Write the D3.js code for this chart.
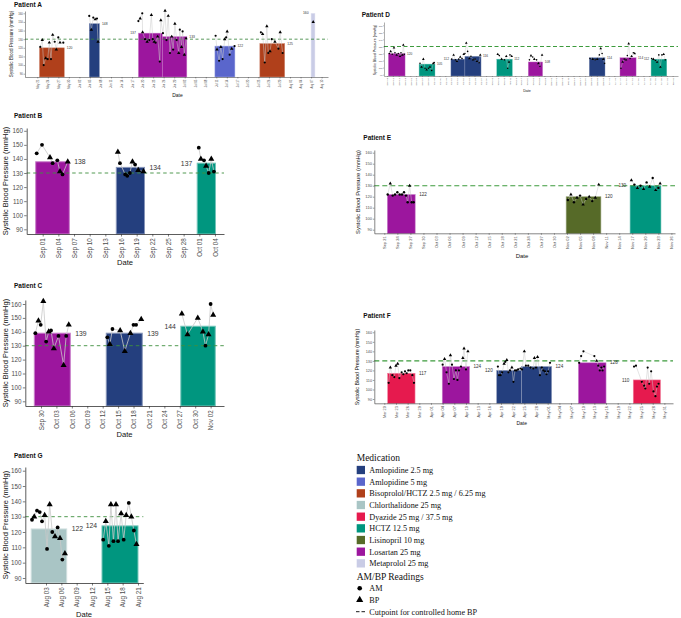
<!DOCTYPE html>
<html><head><meta charset="utf-8">
<script src="https://cdn.jsdelivr.net/npm/d3@7"></script>
<style>body{margin:0;background:#fff}svg{display:block}</style>
</head><body><svg id="c" width="681" height="618"></svg>
<script>
// ---------------- DATA ----------------
const medications = ["Amlopidine 2.5 mg","Amlopidine 5 mg","Bisoprolol/HCTZ 2.5 mg / 6.25 mg","Chlorthalidone 25 mg","Dyazide 25 mg / 37.5 mg","HCTZ 12.5 mg","Lisinopril 10 mg","Losartan 25 mg","Metaprolol 25 mg"];
const readingTypes = ["AM","BP"];
const cutpoint = 130;
const yTicks = [90,100,110,120,130,140,150,160];

// Patient A  (days counted from startA)
const startA = "2021-05-21";
const ticksA = ["2021-05-21","2021-05-24","2021-05-27","2021-05-30","2021-06-02","2021-06-05","2021-06-08","2021-06-11","2021-06-14","2021-06-17","2021-06-20","2021-06-23","2021-06-26","2021-06-29","2021-07-02","2021-07-05","2021-07-08","2021-07-11","2021-07-14","2021-07-17","2021-07-20","2021-07-23","2021-07-26","2021-07-29","2021-08-01","2021-08-04","2021-08-07","2021-08-10"];
const barsA = [["Bisoprolol/HCTZ 2.5 mg / 6.25 mg",0.6,7.7,120],["Amlopidine 2.5 mg",14.8,17.7,148],["Losartan 25 mg",28.8,35.6,137],["Losartan 25 mg",35.6,42.6,133],["Amlopidine 5 mg",50.6,56.3,122],["Bisoprolol/HCTZ 2.5 mg / 6.25 mg",63.4,70.5,125],["Metaprolol 25 mg",78.0,79.1,160]];
const readingsA = [[0.85,121,"AM"],[1.42,129,"BP"],[1.82,100,"AM"],[2.39,108,"BP"],[2.96,107,"AM"],[3.42,126,"BP"],[3.9,107,"AM"],[4.39,135,"BP"],[4.96,127,"AM"],[5.41,118,"BP"],[5.98,132,"AM"],[6.47,126,"BP"],[7.41,126,"AM"],
[14.8,157,"AM"],[15.4,141,"BP"],[15.95,155,"AM"],[16.5,153,"BP"],[17.0,154,"AM"],[17.3,127,"BP"],
[28.8,151,"AM"],[29.3,154,"BP"],[29.9,160,"AM"],[30.0,138,"BP"],[30.7,130,"AM"],[31.3,127,"BP"],[31.9,129,"AM"],[32.5,158,"BP"],[32.9,130,"AM"],[33.3,127,"BP"],[33.7,126,"AM"],[34.3,133,"BP"],[34.9,104,"AM"],[35.2,152,"BP"],[35.8,137,"AM"],[36.4,163,"BP"],[36.8,129,"AM"],[37.3,157,"BP"],[37.8,114,"AM"],[38.3,133,"BP"],[38.7,118,"AM"],[39.2,148,"BP"],[39.7,129,"AM"],[40.3,114,"BP"],[40.6,141,"AM"],[41.1,121,"BP"],[41.4,139,"AM"],[41.9,112,"BP"],[42.4,131,"AM"],
[50.8,134,"AM"],[51.2,118,"BP"],[51.8,105,"AM"],[52.3,121,"BP"],[52.8,107,"AM"],[53.4,130,"BP"],[53.8,132,"AM"],[54.1,139,"BP"],[54.8,112,"AM"],[55.4,119,"BP"],[56.2,122,"AM"],
[63.7,138,"AM"],[64.2,136,"BP"],[64.8,103,"AM"],[65.4,145,"BP"],[65.8,114,"AM"],[66.3,116,"BP"],[66.8,130,"AM"],[67.7,127,"BP"],[68.7,119,"AM"],[69.2,138,"BP"],[69.9,114,"AM"],
[78.6,150,"BP"]];

// Patient B
const startB = "2021-09-01";
const ticksB = ["2021-09-01","2021-09-04","2021-09-07","2021-09-10","2021-09-13","2021-09-16","2021-09-19","2021-09-22","2021-09-25","2021-09-28","2021-10-01","2021-10-04"];
const barsB = [["Losartan 25 mg",-1.34,5.1,138],["Amlopidine 2.5 mg",14.1,19.5,134],["HCTZ 12.5 mg",29.6,33.1,137]];
const readingsB = [[-1.15,144,"AM"],[-0.13,150,"AM"],[1.4,141,"BP"],[1.9,137,"AM"],[2.8,139,"AM"],[3.3,131,"BP"],[3.8,129,"AM"],[4.8,138,"BP"],
[14.4,145,"BP"],[14.8,137,"AM"],[15.8,129,"AM"],[16.2,128,"AM"],[16.7,130,"AM"],[17.2,138,"BP"],[17.7,136,"AM"],[18.3,132,"BP"],[19.3,131,"BP"],
[29.9,148,"AM"],[30.3,140,"BP"],[30.9,139,"AM"],[31.3,135,"BP"],[31.8,130,"AM"],[32.3,140,"BP"],[32.8,131,"AM"]];

// Patient C
const startC = "2021-09-30";
const ticksC = ["2021-09-30","2021-10-03","2021-10-06","2021-10-09","2021-10-12","2021-10-15","2021-10-18","2021-10-21","2021-10-24","2021-10-27","2021-10-30","2021-11-02"];
const barsC = [["Losartan 25 mg",-1.3,5.7,139],["Amlopidine 2.5 mg",12.7,19.7,139],["HCTZ 12.5 mg",27.2,33.9,144]];
const readingsC = [[-1.1,139,"AM"],[-0.5,148,"BP"],[-0.06,145,"AM"],[0.45,162,"BP"],[1.0,133,"AM"],[1.5,140,"BP"],[1.95,141,"AM"],[2.5,128,"BP"],[3.4,137,"AM"],[4.4,116,"BP"],[4.9,137,"AM"],[5.4,145,"BP"],
[12.9,136,"AM"],[13.4,131,"BP"],[13.9,142,"AM"],[15.4,141,"BP"],[16.3,126,"BP"],[17.4,139,"BP"],[18.0,145,"AM"],[18.5,145,"AM"],[19.5,149,"BP"],
[27.4,153,"BP"],[28.5,138,"BP"],[30.5,150,"BP"],[31.5,140,"BP"],[32.0,130,"AM"],[32.6,138,"BP"],[33.0,160,"AM"],[33.5,152,"BP"]];

// Patient D
const startD = "2021-09-09";
const ticksD = ["2021-09-09","2021-09-12","2021-09-15","2021-09-18","2021-09-21","2021-09-24","2021-09-27","2021-09-30","2021-10-03","2021-10-06","2021-10-09","2021-10-12","2021-10-15","2021-10-18","2021-10-21","2021-10-24","2021-10-27","2021-10-30","2021-11-02","2021-11-05","2021-11-08","2021-11-11","2021-11-14","2021-11-17","2021-11-20","2021-11-23","2021-11-26","2021-11-29","2021-12-02","2021-12-05","2021-12-08","2021-12-11","2021-12-14","2021-12-17","2021-12-20","2021-12-23","2021-12-26","2021-12-29","2022-01-01","2022-01-04","2022-01-07","2022-01-10","2022-01-13","2022-01-16","2022-01-19","2022-01-22","2022-01-25","2022-01-28","2022-01-31","2022-02-03"];
const barsD = [["Losartan 25 mg",0.7,9.3,120],["HCTZ 12.5 mg",16.5,24.7,105],["Amlopidine 2.5 mg",32.9,40.1,112],["Amlopidine 2.5 mg",40.1,48.4,116],["HCTZ 12.5 mg",56.5,64.5,112],["Losartan 25 mg",72.7,80.1,108],["Amlopidine 2.5 mg",104.1,112.2,114],["Losartan 25 mg",119.9,128.2,114],["HCTZ 12.5 mg",135.9,144.0,112]];
const readingsD = [[1.2,120,"AM"],[1.9,123,"BP"],[2.7,119,"AM"],[3.6,128,"BP"],[4.1,121,"AM"],[5.0,118,"BP"],[5.8,120,"AM"],[6.7,116,"BP"],[7.2,121,"AM"],[7.9,118,"BP"],[8.4,132,"BP"],[8.9,119,"AM"],
[17.0,106,"AM"],[17.8,101,"BP"],[18.7,112,"BP"],[19.6,99,"AM"],[20.4,97,"BP"],[21.3,99,"AM"],[22.1,101,"BP"],[23.0,96,"AM"],[23.8,106,"BP"],[24.3,107,"AM"],
[33.3,112,"AM"],[34.3,118,"BP"],[35.2,111,"AM"],[36.0,109,"BP"],[36.9,112,"AM"],[37.7,115,"BP"],[38.6,113,"AM"],[39.5,119,"BP"],
[40.1,120,"AM"],[40.8,135,"BP"],[41.5,123,"AM"],[42.4,113,"BP"],[43.2,116,"AM"],[44.3,111,"BP"],[45.3,112,"AM"],[46.3,109,"BP"],[47.4,107,"AM"],[48.0,118,"BP"],
[57.0,119,"BP"],[57.8,117,"AM"],[59.0,112,"BP"],[60.4,111,"AM"],[61.4,116,"BP"],[62.1,99,"AM"],[62.8,108,"BP"],[63.3,118,"AM"],[64.2,116,"BP"],
[73.3,111,"AM"],[74.1,117,"BP"],[75.0,115,"AM"],[75.8,112,"BP"],[77.0,111,"AM"],[77.9,106,"BP"],[78.7,102,"AM"],[79.8,118,"BP"],
[104.5,113,"AM"],[105.9,112,"BP"],[107.1,111,"AM"],[108.2,112,"BP"],[109.3,118,"AM"],[110.0,127,"BP"],[110.7,120,"AM"],[111.3,112,"BP"],[112.0,106,"AM"],
[120.4,99,"AM"],[121.3,108,"BP"],[122.1,112,"AM"],[123.0,111,"BP"],[123.7,117,"AM"],[124.4,134,"BP"],[125.1,113,"AM"],[125.9,116,"BP"],[126.8,121,"AM"],[127.5,120,"BP"],
[136.2,113,"AM"],[137.1,112,"BP"],[138.1,110,"AM"],[139.0,108,"BP"],[139.9,118,"AM"],[140.7,101,"BP"],[141.5,118,"AM"],[142.4,119,"BP"],[143.2,111,"AM"]];

// Patient E
const startE = "2021-09-21";
const ticksE = ["2021-09-21","2021-09-24","2021-09-27","2021-09-30","2021-10-03","2021-10-06","2021-10-09","2021-10-12","2021-10-15","2021-10-18","2021-10-21","2021-10-24","2021-10-27","2021-10-30","2021-11-02","2021-11-05","2021-11-08","2021-11-11","2021-11-14","2021-11-17","2021-11-20","2021-11-23","2021-11-26"];
const barsE = [["Losartan 25 mg",0.7,7.1,122],["Lisinopril 10 mg",41.8,49.8,120],["HCTZ 12.5 mg",56.5,63.6,130]];
const readingsE = [[0.78,122,"AM"],[1.38,132,"BP"],[1.93,121,"AM"],[2.46,122,"AM"],[3.0,124,"AM"],[3.54,122,"AM"],[4.07,122,"AM"],[4.53,124,"AM"],[4.99,121,"AM"],[5.37,115,"AM"],[5.83,130,"BP"],[6.3,115,"AM"],[6.75,115,"AM"],
[42.2,117,"AM"],[42.9,122,"BP"],[43.6,115,"AM"],[44.3,119,"BP"],[45.0,121,"AM"],[45.7,113,"BP"],[46.4,118,"AM"],[47.1,120,"BP"],[47.8,116,"AM"],[48.5,119,"BP"],[49.3,131,"BP"],
[56.8,135,"BP"],[57.5,131,"AM"],[58.2,128,"BP"],[58.9,130,"AM"],[59.6,127,"BP"],[60.3,133,"AM"],[61.0,129,"BP"],[61.7,137,"AM"],[62.4,126,"BP"],[63.0,128,"AM"],[63.4,132,"BP"]];

// Patient F
const startF = "2021-03-20";
const ticksF = ["2021-03-20","2021-03-23","2021-03-26","2021-03-29","2021-04-01","2021-04-04","2021-04-07","2021-04-10","2021-04-13","2021-04-16","2021-04-19","2021-04-22","2021-04-25","2021-04-28","2021-05-01","2021-05-04","2021-05-07","2021-05-10","2021-05-13","2021-05-16","2021-05-19","2021-05-22","2021-05-25","2021-05-28","2021-05-31"];
const barsF = [["Dyazide 25 mg / 37.5 mg",0.87,7.9,117],["Losartan 25 mg",14.9,21.9,124],["Amlopidine 2.5 mg",28.9,35.3,120],["Amlopidine 2.5 mg",35.3,43.0,124],["Losartan 25 mg",49.9,57.0,128],["Dyazide 25 mg / 37.5 mg",64.0,71.0,110]];
const readingsF = [[1.12,107,"AM"],[1.55,123,"BP"],[2.06,115,"AM"],[2.57,113,"AM"],[3.0,125,"BP"],[3.44,127,"BP"],[3.86,112,"AM"],[4.46,118,"AM"],[4.89,116,"AM"],[5.32,119,"AM"],[5.75,117,"AM"],[6.17,120,"AM"],[6.68,120,"AM"],[7.2,115,"AM"],[7.63,107,"AM"],
[15.0,126,"AM"],[15.5,132,"BP"],[16.0,118,"AM"],[16.6,106,"AM"],[17.0,136,"BP"],[17.4,126,"AM"],[17.9,111,"AM"],[18.4,120,"AM"],[18.8,110,"AM"],[19.2,120,"AM"],[19.7,124,"AM"],[20.2,133,"BP"],[20.5,143,"BP"],[21.0,121,"AM"],[21.5,140,"BP"],
[29.2,124,"AM"],[29.5,115,"AM"],[29.9,115,"AM"],[30.3,118,"AM"],[30.8,127,"BP"],[31.1,129,"AM"],[31.5,131,"BP"],[31.9,118,"AM"],[32.3,120,"AM"],[32.8,123,"BP"],[33.2,108,"AM"],[33.6,120,"AM"],[34.0,120,"AM"],[34.4,121,"AM"],[35.0,122,"AM"],[35.4,121,"AM"],[36.0,140,"BP"],[36.4,125,"AM"],
[37.0,125,"AM"],[37.6,123,"AM"],[38.3,122,"AM"],[38.6,133,"BP"],[39.0,123,"AM"],[39.4,134,"BP"],[40.0,115,"AM"],[40.5,123,"AM"],[40.9,120,"AM"],[41.3,119,"AM"],[41.7,116,"AM"],[42.1,119,"AM"],[42.6,128,"AM"],
[50.1,128,"AM"],[50.6,135,"AM"],[51.2,140,"AM"],[54.0,135,"AM"],[54.6,130,"BP"],[55.0,125,"AM"],[55.4,120,"AM"],[55.8,123,"AM"],[56.1,120,"AM"],[56.5,124,"AM"],
[64.2,124,"AM"],[64.7,125,"AM"],[66.2,108,"AM"],[66.8,104,"AM"],[67.1,101,"AM"],[67.7,123,"AM"],[68.1,106,"AM"],[68.6,119,"AM"],[69.2,98,"AM"],[69.7,93,"AM"],[70.1,103,"AM"],[70.5,106,"AM"]];

// Patient G
const startG = "2021-08-03";
const ticksG = ["2021-08-03","2021-08-06","2021-08-09","2021-08-12","2021-08-15","2021-08-18","2021-08-21"];
const barsG = [["Chlorthalidone 25 mg",-2.9,4.05,122],["HCTZ 12.5 mg",10.96,18.0,124]];
const readingsG = [[-2.74,128,"AM"],[-2.3,130,"BP"],[-1.76,134,"AM"],[-1.23,133,"AM"],[-0.78,127,"AM"],[-0.26,131,"BP"],[0.2,109,"AM"],[0.72,138,"BP"],[1.23,120,"AM"],[1.76,117,"BP"],[2.28,123,"AM"],[2.74,116,"BP"],[3.2,102,"AM"],[3.7,106,"BP"],
[11.2,115,"AM"],[11.7,127,"BP"],[12.3,111,"AM"],[12.7,138,"BP"],[13.2,114,"AM"],[13.7,138,"BP"],[14.1,114,"AM"],[14.7,132,"BP"],[15.2,115,"AM"],[15.7,131,"BP"],[16.2,139,"AM"],[16.7,130,"BP"],[17.2,121,"AM"],[17.7,112,"BP"]];

// ---------------- STYLE / LAYOUT ----------------
const medColors = ["#243F7E","#5A66CC","#B0401B","#A9C5C5","#E61A4E","#00967F","#566A28","#9C169E","#C9CCE6"];
const color = d3.scaleOrdinal().domain(medications).range(medColors);
const SANS = "'Liberation Sans', Arial, Helvetica, sans-serif";
const SERIF = "'Liberation Serif', 'Times New Roman', serif";

const big = {tick:6.3, ytitle:7.5, xtitle:7.6, value:6.8, pad:5, r:1.9, tri:16, lw:0.8, tl:2.5, tp:1.2, bsw:1, axw:0.8, dash:"3.5,3", dw:0.9};
const panels = [
 Object.assign({}, {title:"Patient A", tx:14, ty:7, start:startA, ticks:ticksA, bars:barsA, pts:readingsA, sides:["r","r","l","r","r","r","l"],
   x0:25, x1:328, tick0:37.3, ppd:3.51, yTop:11, yBase:77, y90:73.7, y160:13.3, ytx:11, yty:44, xtx:177.5, xty:97,
   tick:2.8, ytitle:4.6, xtitle:5, value:3.4, pad:2.5, r:1.1, tri:5, lw:0.5, tl:1.5, tp:0.6, bsw:0.5, axw:0.5, dash:"3,2.5", dw:0.8, dcol:"#2F7F33"}),
 Object.assign({}, big, {title:"Patient B", tx:14, ty:118, start:startB, ticks:ticksB, bars:barsB, pts:readingsB, sides:["r","r","l"],
   x0:26.7, x1:224, tick0:42.7, ppd:5.22, yTop:128, yBase:234, y90:229.3, y160:130.8, ytx:5.5, yty:181, xtx:125, xty:265}),
 Object.assign({}, big, {title:"Patient C", tx:14, ty:288, start:startC, ticks:ticksC, bars:barsC, pts:readingsC, sides:["r","r","l"],
   x0:25.3, x1:224, tick0:41, ppd:5.14, yTop:300, yBase:406, y90:401.3, y160:304, ytx:5.5, yty:353, xtx:124.5, xty:437}),
 Object.assign({}, big, {title:"Patient G", tx:14, ty:458, start:startG, ticks:ticksG, bars:barsG, pts:readingsG, sides:["r","l"],
   x0:25.3, x1:143.3, tick0:46, ppd:5.11, yTop:467, yBase:583, y90:578, y160:470.7, ytx:5, yty:525, xtx:84, xty:616.5}),
 {title:"Patient D", tx:361.7, ty:17, start:startD, ticks:ticksD, bars:barsD, pts:readingsD, sides:["r","r","l","r","r","r","r","r","l"],
   x0:384, x1:678, tick0:387, ppd:1.943, yTop:22, yBase:76, y90:74.65, y160:25.3, ytx:374.5, yty:50, xtx:527, xty:92,
   tick:2.3, ytitle:3.5, xtitle:3.6, value:3.2, pad:2, r:0.8, tri:3, lw:0.4, tl:1, tp:0.5, bsw:0.4, axw:0.4, dash:"4,2.5", dw:1.1, dcol:"#3D9B3D"},
 {title:"Patient E", tx:363.3, ty:140, start:startE, ticks:ticksE, bars:barsE, pts:readingsE, sides:["r","r","l"],
   x0:374.3, x1:675, tick0:384.3, ppd:4.35, yTop:150, yBase:233.3, y90:229.7, y160:152.7, ytx:357.5, yty:192, xtx:522, xty:258,
   tick:4, ytitle:5.8, xtitle:6, value:4.6, pad:4, r:1.2, tri:5, lw:0.5, tl:1.5, tp:0.8, bsw:0.6, axw:0.6, dash:"5,3", dw:1.1, dcol:"#3D9B3D"},
 {title:"Patient F", tx:363.3, ty:318, start:startF, ticks:ticksF, bars:barsF, pts:readingsF, sides:["r","r","l","r","r","l"],
   x0:374.3, x1:673, tick0:384.3, ppd:3.89, yTop:330, yBase:403.3, y90:399, y160:332.3, ytx:357.5, yty:367, xtx:521.7, xty:424.7,
   tick:3.8, ytitle:5.3, xtitle:5, value:4.6, pad:4, r:1.1, tri:5, lw:0.5, tl:1.5, tp:0.8, bsw:0.6, axw:0.6, dash:"5,3", dw:1.1, dcol:"#3D9B3D"}
];

const svg = d3.select("#c");
const parse = d3.utcParse("%Y-%m-%d");
const fmt = d3.utcFormat("%b %d");
const DAY = 864e5;

function drawPanel(p) {
  const g = svg.append("g");
  const t0 = parse(p.start);
  const at = d => new Date(+t0 + d * DAY);
  const xRef = d3.scaleUtc().domain([t0, at(1)]).range([p.tick0, p.tick0 + p.ppd]);
  const x = d3.scaleUtc().domain([xRef.invert(p.x0), xRef.invert(p.x1)]).range([p.x0, p.x1]);
  const yRef = d3.scaleLinear().domain([90, 160]).range([p.y90, p.y160]);
  const y = d3.scaleLinear().domain([yRef.invert(p.yBase), yRef.invert(p.yTop)]).range([p.yBase, p.yTop]);
  const yMin = y.domain()[0];

  g.selectAll("rect.bar").data(p.bars).join("rect").attr("class", "bar")
    .attr("x", d => x(at(d[1]))).attr("width", d => x(at(d[2])) - x(at(d[1])))
    .attr("y", d => y(d[3])).attr("height", d => y(yMin) - y(d[3]))
    .attr("fill", d => color(d[0]))
    .attr("stroke", d => d3.interpolateRgb(color(d[0]), "#fff")(0.45))
    .attr("stroke-width", p.bsw);

  g.append("line").attr("x1", p.x0).attr("x2", p.x1).attr("y1", y(cutpoint)).attr("y2", y(cutpoint))
    .attr("stroke", p.dcol || "#3E8E3E").attr("stroke-width", p.dw).attr("stroke-dasharray", p.dash);

  g.selectAll("text.val").data(p.bars).join("text").attr("class", "val")
    .attr("x", (d, i) => p.sides[i] === "l" ? x(at(d[1])) - p.pad : x(at(d[2])) + p.pad)
    .attr("y", d => y(d[3])).attr("dy", "0.35em")
    .attr("text-anchor", (d, i) => p.sides[i] === "l" ? "end" : "start")
    .attr("font-family", SANS).attr("font-size", p.value).attr("fill", "#333")
    .text(d => d[3]);

  const segs = []; let cur = [];
  p.pts.forEach((d, i) => { if (i > 0 && d[0] - p.pts[i - 1][0] > 3) { segs.push(cur); cur = []; } cur.push(d); });
  segs.push(cur);
  const line = d3.line().x(d => x(at(d[0]))).y(d => y(d[1]));
  g.selectAll("path.seg").data(segs).join("path").attr("class", "seg")
    .attr("d", line).attr("fill", "none").attr("stroke", "#C9C9C9").attr("stroke-width", p.lw);

  const tri = d3.symbol().type(d3.symbolTriangle).size(p.tri)();
  g.selectAll("g.pt").data(p.pts).join(enter => {
    const e = enter.append("g").attr("class", "pt")
      .attr("transform", d => `translate(${x(at(d[0]))},${y(d[1])})`);
    e.each(function (d) {
      const s = d3.select(this);
      if (d[2] === "BP") s.append("path").attr("d", tri).attr("fill", "#000");
      else s.append("circle").attr("r", p.r).attr("fill", "#000");
    });
    return e;
  });

  const ya = g.append("g").attr("transform", `translate(${p.x0},0)`)
    .call(d3.axisLeft(y).tickValues(yTicks).tickSize(p.tl).tickSizeOuter(0).tickPadding(p.tp));
  const xa = g.append("g").attr("transform", `translate(0,${p.yBase})`)
    .call(d3.axisBottom(x).tickValues(p.ticks.map(parse)).tickFormat(fmt).tickSize(p.tl).tickSizeOuter(0));
  [ya, xa].forEach(a => {
    a.select(".domain").attr("stroke", "#333").attr("stroke-width", p.axw);
    a.selectAll(".tick line").attr("stroke", "#333").attr("stroke-width", p.axw * 0.8);
    a.selectAll(".tick text").attr("fill", "#4D4D4D").attr("font-family", SANS).attr("font-size", p.tick);
  });
  xa.selectAll(".tick text").attr("transform", "rotate(-90)").attr("text-anchor", "end")
    .attr("x", -(p.tl + p.tp + 0.6)).attr("y", 0).attr("dy", "0.35em");

  g.append("text").attr("x", p.tx).attr("y", p.ty).text(p.title)
    .attr("font-family", SANS).attr("font-weight", "bold").attr("font-size", 6.5).attr("fill", "#111");
  g.append("text").attr("transform", `translate(${p.ytx},${p.yty}) rotate(-90)`).attr("text-anchor", "middle")
    .attr("dy", "0.35em").attr("font-family", SANS).attr("font-size", p.ytitle).attr("fill", "#111")
    .text("Systolic Blood Pressure (mmHg)");
  g.append("text").attr("x", p.xtx).attr("y", p.xty).attr("text-anchor", "middle")
    .attr("font-family", SANS).attr("font-size", p.xtitle).attr("fill", "#111").text("Date");
}
panels.forEach(drawPanel);

// ---------------- LEGEND ----------------
const lg = svg.append("g").attr("font-family", SERIF).attr("fill", "#111");
lg.append("text").attr("x", 356.7).attr("y", 460.5).attr("font-size", 9.5).text("Medication");
const items = lg.selectAll("g.item").data(medications).join("g").attr("class", "item")
  .attr("transform", (d, i) => `translate(356.7,${470 + i * 11.67})`);
items.append("rect").attr("x", 0).attr("y", -4.15).attr("width", 8.3).attr("height", 8.3).attr("fill", d => color(d));
items.append("text").attr("x", 12.6).attr("y", 2.9).attr("font-size", 8.2).text(d => d);
lg.append("text").attr("x", 356.7).attr("y", 580).attr("font-size", 9.5).text("AM/BP Readings");
const rt = lg.selectAll("g.rt").data(readingTypes).join("g").attr("class", "rt")
  .attr("transform", (d, i) => `translate(356.7,${588.3 + i * 11.67})`);
rt.each(function (d) {
  const s = d3.select(this);
  if (d === "BP") s.append("path").attr("d", d3.symbol().type(d3.symbolTriangle).size(22)()).attr("transform", "translate(3,0)").attr("fill", "#000");
  else s.append("circle").attr("cx", 3).attr("r", 2.3).attr("fill", "#000");
});
rt.append("text").attr("x", 12.6).attr("y", 2.9).attr("font-size", 8.2).text(d => d);
lg.append("line").attr("x1", 356).attr("x2", 366).attr("y1", 611.7).attr("y2", 611.7)
  .attr("stroke", "#000").attr("stroke-width", 0.9).attr("stroke-dasharray", "3.5,2");
lg.append("text").attr("x", 369.3).attr("y", 614.6).attr("font-size", 8.2).text("Cutpoint for controlled home BP");
</script></body></html>
